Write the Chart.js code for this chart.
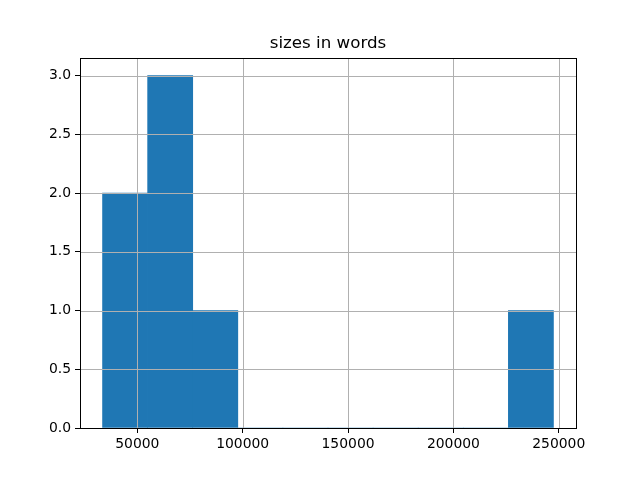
<!DOCTYPE html>
<html>
<head>
<meta charset="utf-8">
<script src="https://cdn.jsdelivr.net/npm/chart.js@4"></script>
<style>
  html, body { margin: 0; padding: 0; background: #fff; }
  #wrap { width: 640px; height: 480px; }
</style>
</head>
<body>
<div id="wrap"><canvas id="c" width="640" height="480"></canvas></div>
<script>
// Histogram of sizes in words (10 bins)
const titleText = "sizes in words";
const binEdges = [33500, 54898, 76296, 97694, 119092, 140490, 161888, 183286, 204684, 226082, 247480];
const counts = [2, 3, 1, 0, 0, 0, 0, 0, 0, 1];
const xTicks = [50000, 100000, 150000, 200000, 250000];
const yTicks = [0, 0.5, 1.0, 1.5, 2.0, 2.5, 3.0];

const barColor = '#1f77b4';
const gridColor = '#b0b0b0';
const fontFamily = "'DejaVu Sans', sans-serif";

const xSpan = binEdges[binEdges.length - 1] - binEdges[0];
const xMin = binEdges[0] - 0.05 * xSpan;
const xMax = binEdges[binEdges.length - 1] + 0.05 * xSpan;
const yMax = Math.max(...counts) * 1.05;

const points = counts.map((c, i) => ({ x: (binEdges[i] + binEdges[i + 1]) / 2, y: c }));

const overlay = {
  id: 'overlay',
  afterDatasetsDraw(chart) {
    const { ctx, chartArea: a, scales } = chart;
    ctx.save();
    ctx.strokeStyle = gridColor;
    ctx.lineWidth = 1;
    scales.x.ticks.forEach(t => {
      const px = Math.round(scales.x.getPixelForValue(t.value)) + 0.5;
      ctx.beginPath(); ctx.moveTo(px, a.top); ctx.lineTo(px, a.bottom); ctx.stroke();
    });
    scales.y.ticks.forEach(t => {
      const py = Math.round(scales.y.getPixelForValue(t.value)) + 0.5;
      ctx.beginPath(); ctx.moveTo(a.left, py); ctx.lineTo(a.right, py); ctx.stroke();
    });
    ctx.strokeStyle = '#000';
    ctx.lineWidth = 1;
    ctx.strokeRect(Math.round(a.left) + 0.5, Math.round(a.top) + 0.5,
                   Math.round(a.right - a.left), Math.round(a.bottom - a.top));
    ctx.restore();
  }
};

new Chart(document.getElementById('c'), {
  type: 'bar',
  data: {
    datasets: [{
      data: points,
      backgroundColor: barColor,
      borderWidth: 0,
      barPercentage: 1.0,
      categoryPercentage: 1.0
    }]
  },
  options: {
    responsive: false,
    animation: false,
    layout: { padding: { left: 0, right: 64, top: 0, bottom: 0 } },
    plugins: {
      legend: { display: false },
      tooltip: { enabled: false },
      title: {
        display: true,
        text: titleText,
        fullSize: false,
        color: '#000',
        font: { family: fontFamily, size: 16.7, weight: 'normal', lineHeight: 1.2 },
        padding: { top: 34, bottom: 4 }
      }
    },
    scales: {
      x: {
        type: 'linear',
        offset: false,
        min: xMin,
        max: xMax,
        afterBuildTicks: s => { s.ticks = xTicks.map(v => ({ value: v })); },
        afterFit: s => { s.height = 52; },
        grid: { offset: false, drawOnChartArea: false, drawTicks: true, tickLength: 5, tickColor: '#000', tickWidth: 1 },
        border: { display: false },
        ticks: {
          color: '#000',
          padding: 3,
          maxRotation: 0,
          autoSkip: false,
          font: { family: fontFamily, size: 13.9 },
          callback: v => String(v)
        }
      },
      y: {
        type: 'linear',
        min: 0,
        max: yMax,
        afterBuildTicks: s => { s.ticks = yTicks.map(v => ({ value: v })); },
        afterFit: s => { s.width = 80; },
        grid: { drawOnChartArea: false, drawTicks: true, tickLength: 5, tickColor: '#000', tickWidth: 1 },
        border: { display: false },
        ticks: {
          color: '#000',
          padding: 4,
          autoSkip: false,
          font: { family: fontFamily, size: 13.9 },
          callback: v => Number(v).toFixed(1)
        }
      }
    }
  },
  plugins: [overlay]
});
</script>
</body>
</html>
